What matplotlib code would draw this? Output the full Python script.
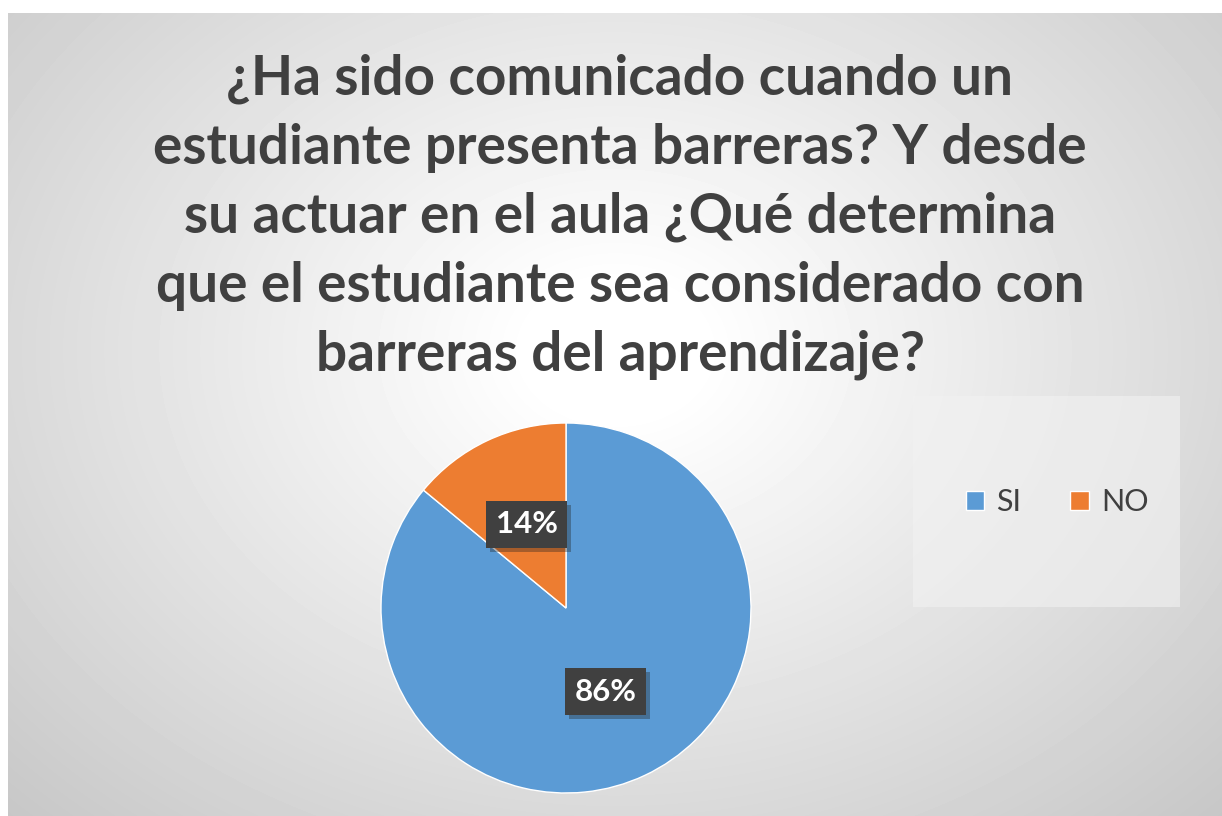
import numpy as np
import matplotlib
matplotlib.use("Agg")
import matplotlib.pyplot as plt
from matplotlib.patches import Rectangle

categories = ["SI", "NO"]
values = [86, 14]
colors = ["#5B9BD5", "#ED7D31"]
title = ("¿Ha sido comunicado cuando un\nestudiante presenta barreras? Y desde\n"
         "su actuar en el aula ¿Qué determina\nque el estudiante sea considerado con\n"
         "barreras del aprendizaje?")

W, H = 1222, 816
fig = plt.figure(figsize=(W / 100, H / 100), dpi=100, facecolor="white")

# background chart area with radial gradient
x0, y0 = 8, 13
bg = fig.add_axes([x0 / W, 0, (W - x0) / W, (H - y0) / H])
bw, bh = W - x0, H - y0
yy, xx = np.mgrid[0:bh, 0:bw]
cx, cy = bw * 0.5, bh * 0.42
r = np.sqrt(((xx - cx) / (bw * 0.5)) ** 2 + ((yy - cy) / (bh * 0.58)) ** 2) / np.sqrt(2)
v = 1.0 - 0.22 * np.clip((r - 0.1) / 0.9, 0, 1) ** 1.0
bg.imshow(v, cmap="gray", vmin=0, vmax=1, aspect="auto", interpolation="bilinear")
bg.set_axis_off()
bg.set_zorder(0)

# title
fig.text(620 / W, 1 - 217 / H, title, ha="center", va="center",
         fontsize=39.5, fontweight="bold", color="#404040", family="Lato",
         linespacing=1.46)

# legend box
fig.patches.append(Rectangle((913 / W, 1 - 607 / H), (1180 - 913) / W, (607 - 396) / H,
                             transform=fig.transFigure, facecolor="#f2f2f2",
                             alpha=0.6, edgecolor="none", zorder=1))

# pie
pcx, pcy, pr = 566, 608, 185
ax = fig.add_axes([(pcx - pr) / W, 1 - (pcy + pr) / H, 2 * pr / W, 2 * pr / H])
ax.set_zorder(2)
wedges, texts, autotexts = ax.pie(values, colors=colors, startangle=90, counterclock=False,
                                  autopct="%1.0f%%", pctdistance=0.5,
                                  wedgeprops=dict(edgecolor="white", linewidth=1))
ax.set_xlim(-1, 1)
ax.set_ylim(-1, 1)
ax.set_aspect("equal")
labels = []
for t in autotexts:
    x, y = t.get_position()
    t.set_visible(False)
    lab = ax.text(x, y, t.get_text(), ha="center", va="center",
                  fontsize=22.5, fontweight="bold", color="white", family="Lato",
                  bbox=dict(boxstyle="square,pad=0.3", facecolor="#404040",
                            edgecolor="none"), zorder=6)
    labels.append(lab)

# legend
fig.legend(wedges, categories, loc="center", bbox_to_anchor=(1057 / W, 1 - 502 / H),
           ncol=2, frameon=False, handlelength=0.6, handleheight=0.6,
           columnspacing=1.6, handletextpad=0.4, labelcolor="#404040",
           prop=dict(family="Lato", size=22))

# shadows behind data labels
fig.canvas.draw()
for lab in labels:
    bb = lab.get_bbox_patch().get_window_extent()
    ax.add_patch(Rectangle(((bb.x0 + 4) / W, (bb.y0 - 4) / H), bb.width / W, bb.height / H,
                           transform=fig.transFigure, facecolor="#202020", alpha=0.35,
                           edgecolor="none", zorder=4, clip_on=False))

fig.savefig("out.png", dpi=100, facecolor="white")
